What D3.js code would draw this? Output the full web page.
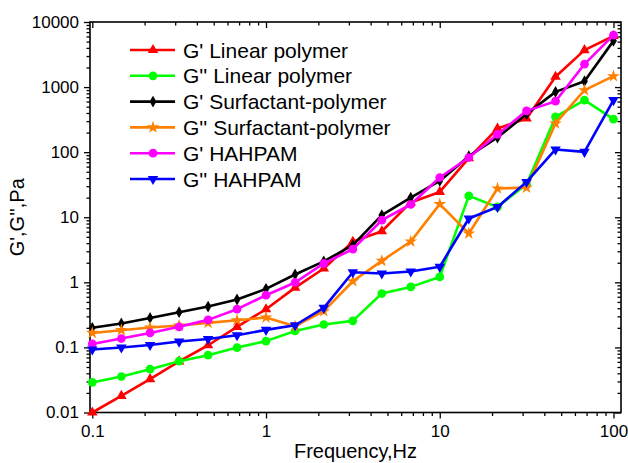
<!DOCTYPE html>
<html>
<head>
<meta charset="utf-8">
<script src="https://cdn.jsdelivr.net/npm/d3@7"></script>
<style>
  body { margin: 0; background: #fff; }
  text { font-family: Arial, "Liberation Sans", sans-serif; fill: #000; }
</style>
</head>
<body>
<div id="chart"></div>
<script>
// Data
var frequency = [0.1, 0.147, 0.215, 0.316, 0.464, 0.681, 1, 1.47, 2.15, 3.16, 4.64, 6.81, 10, 14.7, 21.5, 31.6, 46.4, 68.1, 100];

var gpLinear = [0.01, 0.018, 0.0325, 0.061, 0.108, 0.207, 0.386, 0.83, 1.63, 4.2, 6.1, 16.9, 24.5, 81, 231, 329, 1440, 3700, 6100];
var gppLinear = [0.029, 0.0357, 0.0463, 0.0614, 0.076, 0.0995, 0.125, 0.179, 0.225, 0.256, 0.673, 0.851, 1.21, 21.3, 14.4, 32.2, 348, 630, 321];
var gpSurf = [0.2, 0.233, 0.284, 0.348, 0.425, 0.545, 0.794, 1.32, 2.1, 3.72, 10.8, 20.1, 36.2, 86.7, 168, 385, 844, 1232, 5130];
var gppSurf = [0.167, 0.184, 0.202, 0.217, 0.238, 0.262, 0.288, 0.212, 0.36, 1.04, 2.14, 4.24, 15.9, 5.63, 27.7, 28.5, 276, 896, 1470];
var gpHahpam = [0.113, 0.137, 0.167, 0.207, 0.265, 0.387, 0.634, 0.995, 1.95, 3.23, 9.0, 15.7, 40.8, 82.8, 187, 431, 607, 2250, 6270];
var gppHahpam = [0.093, 0.0997, 0.109, 0.123, 0.135, 0.154, 0.186, 0.219, 0.405, 1.43, 1.37, 1.47, 1.73, 9.57, 14.4, 34.9, 110, 101, 630];

var seriesNames = ["G' Linear polymer", "G'' Linear polymer", "G' Surfactant-polymer", "G'' Surfactant-polymer", "G' HAHPAM", "G'' HAHPAM"];
var seriesValues = [gpLinear, gppLinear, gpSurf, gppSurf, gpHahpam, gppHahpam];
var seriesColors = ["#ff0000", "#00ff00", "#000000", "#ff8000", "#ff00ff", "#0000ff"];

var xTicks = [0.1, 1, 10, 100];
var yTicks = [0.01, 0.1, 1, 10, 100, 1000, 10000];

var svgWidth = 628;
var svgHeight = 463;
var plot = { left: 90, right: 621, top: 22, bottom: 412.5 };

var svg = d3.select("#chart")
  .append("svg")
  .attr("width", svgWidth)
  .attr("height", svgHeight);

// Scales
var x = d3.scaleLog().domain([0.097, 110.5]).range([plot.left, plot.right]);
var y = d3.scaleLog().domain([0.01, 10000]).range([plot.bottom, plot.top]);

// minor ticks 2..9 per decade
function minorTicks(lo, hi, scaleFn) {
  var out = [];
  for (var p = Math.floor(Math.log10(lo)); p <= Math.ceil(Math.log10(hi)); p++) {
    for (var m = 2; m <= 9; m++) {
      var v = m * Math.pow(10, p);
      var d = scaleFn.domain();
      if (v >= d[0] && v <= d[1]) out.push(v);
    }
  }
  return out;
}
var xMinor = minorTicks(0.1, 100, x);
var yMinor = minorTicks(0.01, 10000, y);
var fmt = function(d) { return String(d); };

// Bottom axis (outward ticks)
svg.append("g")
  .attr("transform", `translate(0,${plot.bottom})`)
  .call(d3.axisBottom(x).tickValues(xTicks).tickFormat(fmt).tickSize(6).tickSizeOuter(0).tickPadding(6));
svg.append("g")
  .attr("transform", `translate(0,${plot.bottom})`)
  .call(d3.axisBottom(x).tickValues(xMinor).tickFormat("").tickSize(3.5).tickSizeOuter(0));

// Left axis (outward ticks)
svg.append("g")
  .attr("transform", `translate(${plot.left},0)`)
  .call(d3.axisLeft(y).tickValues(yTicks).tickFormat(fmt).tickSize(6).tickSizeOuter(0).tickPadding(5));
svg.append("g")
  .attr("transform", `translate(${plot.left},0)`)
  .call(d3.axisLeft(y).tickValues(yMinor).tickFormat("").tickSize(3.5).tickSizeOuter(0));

// Top and right axes (inward ticks, no labels)
svg.append("g")
  .attr("transform", `translate(0,${plot.top})`)
  .call(d3.axisBottom(x).tickValues(xTicks).tickFormat("").tickSize(6).tickSizeOuter(0));
svg.append("g")
  .attr("transform", `translate(0,${plot.top})`)
  .call(d3.axisBottom(x).tickValues(xMinor).tickFormat("").tickSize(3.5).tickSizeOuter(0));
svg.append("g")
  .attr("transform", `translate(${plot.right},0)`)
  .call(d3.axisLeft(y).tickValues(yTicks).tickFormat("").tickSize(6).tickSizeOuter(0));
svg.append("g")
  .attr("transform", `translate(${plot.right},0)`)
  .call(d3.axisLeft(y).tickValues(yMinor).tickFormat("").tickSize(3.5).tickSizeOuter(0));

svg.selectAll(".domain").remove();
svg.selectAll(".tick line").attr("stroke", "#000").attr("stroke-width", 1.3);
svg.selectAll(".tick text").style("font-size", "17px").attr("fill", "#000");

// Frame
svg.append("rect")
  .attr("x", plot.left)
  .attr("y", plot.top)
  .attr("width", plot.right - plot.left)
  .attr("height", plot.bottom - plot.top)
  .attr("fill", "none")
  .attr("stroke", "#000")
  .attr("stroke-width", 1.6);

// Axis titles
svg.append("text")
  .attr("x", (plot.left + plot.right) / 2)
  .attr("y", 458)
  .attr("text-anchor", "middle")
  .style("font-size", "20px")
  .text("Frequency,Hz");

svg.append("text")
  .attr("transform", `translate(24,${(plot.top + plot.bottom) / 2}) rotate(-90)`)
  .attr("text-anchor", "middle")
  .style("font-size", "20px")
  .text("G',G'',Pa");

// Markers
var symbols = [
  d3.symbol().type(d3.symbolTriangle).size(48),
  d3.symbol().type(d3.symbolCircle).size(60),
  d3.symbol().type(d3.symbolDiamond).size(40),
  d3.symbol().type(d3.symbolStar).size(50),
  d3.symbol().type(d3.symbolCircle).size(60),
  d3.symbol().type(d3.symbolTriangle).size(48)
];
var rotations = [0, 0, 0, 0, 0, 180];

var line = d3.line()
  .x(function(d) { return x(d[0]); })
  .y(function(d) { return y(d[1]); });

var dataGroup = svg.append("g");
seriesValues.forEach(function(vals, i) {
  var pts = frequency.map(function(f, j) { return [f, vals[j]]; });
  var g = dataGroup.append("g");
  g.append("path")
    .datum(pts)
    .attr("d", line)
    .attr("fill", "none")
    .attr("stroke", seriesColors[i])
    .attr("stroke-width", 2.6)
    .attr("stroke-linejoin", "round");
  g.selectAll("path.mark")
    .data(pts)
    .enter()
    .append("path")
    .attr("class", "mark")
    .attr("d", symbols[i])
    .attr("transform", d => `translate(${x(d[0])},${y(d[1])}) rotate(${rotations[i]})`)
    .attr("fill", seriesColors[i]);
});

// Legend
var legend = svg.append("g");
seriesNames.forEach(function(name, i) {
  var ly = 50 + i * 25.8;
  legend.append("line")
    .attr("x1", 130).attr("x2", 175)
    .attr("y1", ly).attr("y2", ly)
    .attr("stroke", seriesColors[i])
    .attr("stroke-width", 2.6);
  legend.append("path")
    .attr("d", symbols[i])
    .attr("transform", `translate(153,${ly}) rotate(${rotations[i]})`)
    .attr("fill", seriesColors[i]);
  legend.append("text")
    .attr("x", 183)
    .attr("y", ly)
    .attr("dy", "0.36em")
    .style("font-size", "21px")
    .text(name);
});
</script>
</body>
</html>
